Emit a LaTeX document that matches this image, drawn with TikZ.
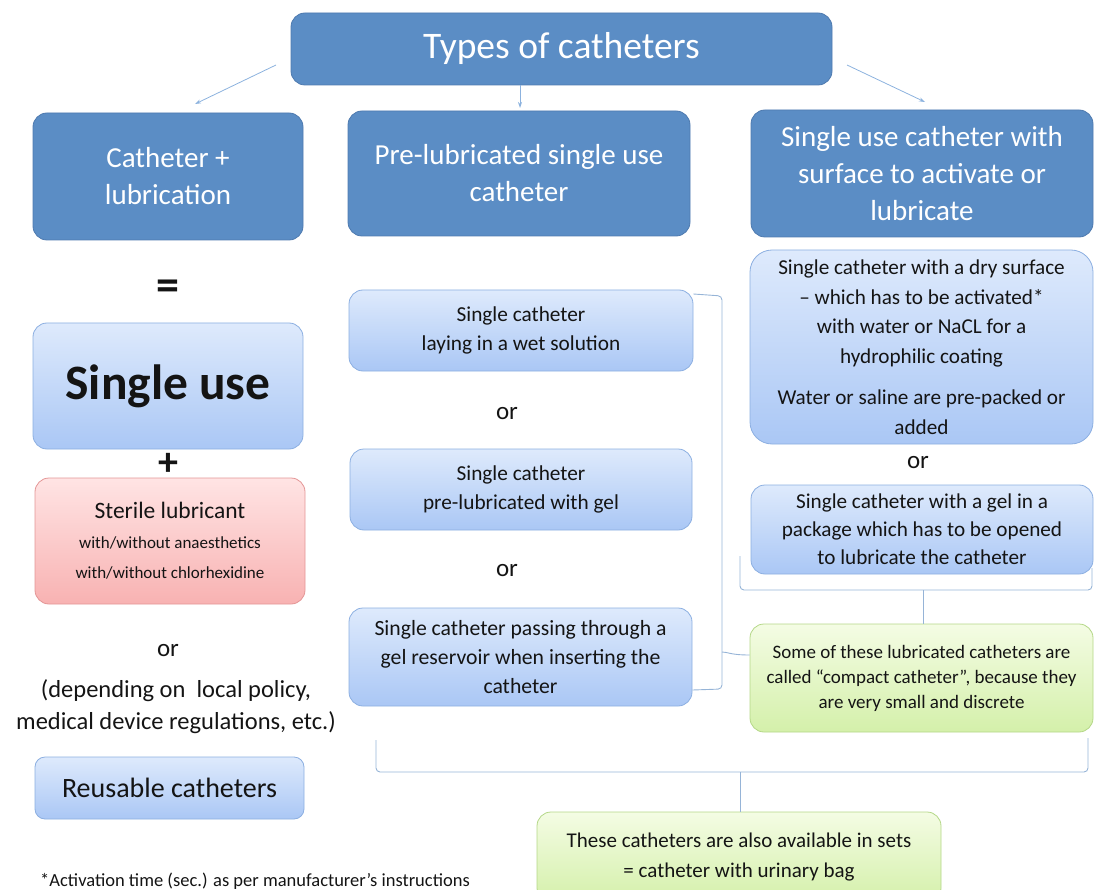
\documentclass[tikz,border=0pt]{standalone}
\usepackage{fontspec}
\setmainfont{Carlito}
\usetikzlibrary{shadings,arrows.meta}
\definecolor{hdrfill}{RGB}{91,141,197}
\definecolor{hdrline}{RGB}{78,122,175}
\definecolor{lbtop}{RGB}{222,234,252}
\definecolor{lbbot}{RGB}{170,199,245}
\definecolor{lbline}{RGB}{140,175,225}
\definecolor{pktop}{RGB}{255,228,228}
\definecolor{pkbot}{RGB}{248,178,178}
\definecolor{pkline}{RGB}{228,150,150}
\definecolor{grtop}{RGB}{244,252,228}
\definecolor{grbot}{RGB}{212,240,170}
\definecolor{grline}{RGB}{180,215,135}
\definecolor{arrc}{RGB}{140,178,222}
\definecolor{brc}{RGB}{150,180,215}
\definecolor{txt}{RGB}{20,20,20}
\begin{document}
\begin{tikzpicture}[x=1pt,y=-1pt,
  hdr/.style={draw=hdrline, line width=0.8pt, fill=hdrfill, rounded corners=14pt, text=white, align=center, inner sep=0pt},
  lbox/.style={draw=lbline, line width=0.8pt, top color=lbtop, bottom color=lbbot, rounded corners=14pt, text=txt, align=center, inner sep=0pt},
  pbox/.style={draw=pkline, line width=0.8pt, top color=pktop, bottom color=pkbot, rounded corners=14pt, text=txt, align=center, inner sep=0pt},
  gbox/.style={draw=grline, line width=0.8pt, top color=grtop, bottom color=grbot, rounded corners=14pt, text=txt, align=center, inner sep=0pt},
  conn/.style={draw=arrc, line width=0.8pt, -{Stealth[length=6pt,width=4pt]}},
  brace/.style={draw=brc, line width=0.9pt, rounded corners=4pt},
  plain/.style={text=txt, align=center, inner sep=0pt},
  fs/.style n args={2}{font=\fontsize{#1}{#2}\selectfont}
]
\useasboundingbox (0,0) rectangle (1094,890);

% title and headers
\node[hdr, minimum width=541, minimum height=72, fs={37.5}{40}] (title) at (561.5,49) {Types of catheters};
\node[hdr, minimum width=270, minimum height=127, fs={29}{37}] (h1) at (168,176.5) {Catheter +\\lubrication};
\node[hdr, minimum width=342, minimum height=125, fs={29}{37}] (h2) at (519,173.5) {Pre-lubricated single use\\catheter};
\node[hdr, minimum width=342, minimum height=127, fs={29}{37}] (h3) at (922,173.5) {Single use catheter with\\surface to activate or\\lubricate};

\coordinate (a1s) at (276,65);
\coordinate (a1e) at (195,104);
\coordinate (a2s) at (520,84);
\coordinate (a2e) at (520,108);
\coordinate (a3s) at (847,65);
\coordinate (a3e) at (925,102);
\draw[conn] (a1s) -- (a1e);
\draw[conn] (title.south -| a2s) -- (a2e);
\draw[conn] (a3s) -- (a3e);

% left column
\node[plain, font=\fontsize{46}{46}\selectfont\bfseries] (eq) at (168,290) {=};
\node[lbox, minimum width=270, minimum height=126, font=\fontsize{49.5}{50}\selectfont\bfseries] (su) at (168,386) {Single use};
\node[plain, font=\fontsize{40}{40}\selectfont\bfseries] (plus) at (168,464) {+};
\node[pbox, minimum width=270, minimum height=126, fs={17}{30}] (sl) at (170,541)
  {{\fontsize{23.5}{27}\selectfont Sterile lubricant}\\with/without anaesthetics\\with/without chlorhexidine};
\node[plain, fs={25}{28}] (or1) at (168,651) {or};
\node[plain, fs={24.5}{32}] (dep) at (176,707) {(depending on\ \ local policy,\\medical device regulations, etc.)};
\node[lbox, minimum width=269, minimum height=62, fs={28}{30}, rounded corners=10pt] (ru) at (169.5,788) {Reusable catheters};

% middle column
\node[lbox, minimum width=344, minimum height=81, fs={21.3}{29}] (m1) at (521,330.5) {Single catheter\\laying in a wet solution};
\node[plain, fs={25}{28}] (or2) at (507,414) {or};
\node[lbox, minimum width=342, minimum height=81, fs={21.3}{29}] (m2) at (521,489.5) {Single catheter\\pre-lubricated with gel};
\node[plain, fs={25}{28}] (or3) at (507,571) {or};
\node[lbox, minimum width=343, minimum height=98, fs={21.7}{29}] (m3) at (520.5,657) {Single catheter passing through a\\gel reservoir when inserting the\\catheter};

% right column
\node[lbox, minimum width=343, minimum height=194, fs={21.2}{29.5}, rounded corners=22pt] (r1) at (921.5,347)
  {Single catheter with a dry surface\\-- which has to be activated*\\with water or NaCL for a\\hydrophilic coating\\[12pt]Water or saline are pre-packed or\\added};
\node[plain, fs={25}{28}] (or4) at (918,463) {or};
\node[lbox, minimum width=342, minimum height=89, fs={21.2}{28}] (r2) at (922,529.5) {Single catheter with a gel in a\\package which has to be opened\\to lubricate the catheter};
\node[gbox, minimum width=343, minimum height=108, fs={19}{25}] (g1) at (921.5,678) {Some of these lubricated catheters are\\called ``compact catheter'', because they\\are very small and discrete};
\node[gbox, minimum width=404, minimum height=90, fs={21}{30}] (g2) at (739,857) {These catheters are also available in sets\\= catheter with urinary bag};

\node[plain, anchor=west, fs={18.5}{20}] (fn) at (40,881) {*Activation time (sec.) as per manufacturer's instructions};

% braces
\coordinate (b1t) at (722,296);
\coordinate (b1m) at (722,652);
\coordinate (b1b) at (722,689);
\draw[brace] (m1.north east |- 0,294) -- (b1t) -- (b1b) -- (m3.east |- 0,690);
\draw[brace, rounded corners=3pt] (b1m) .. controls (728,652) and (730,655) .. (g1.west |- 0,655);

\coordinate (b2l) at (740,556);
\coordinate (b2r) at (1092,568);
\draw[brace] (b2l) -- (740,590) -- (1092,590) -- (b2r);
\draw[brace] (923,590) -- (g1.north -| 923,0);

\coordinate (b3l) at (376,740);
\coordinate (b3r) at (1088,738);
\draw[brace] (b3l) -- (376,772) -- (1088,772) -- (b3r);
\draw[brace] (740,772) -- (g2.north -| 740,0);
\end{tikzpicture}
\end{document}
